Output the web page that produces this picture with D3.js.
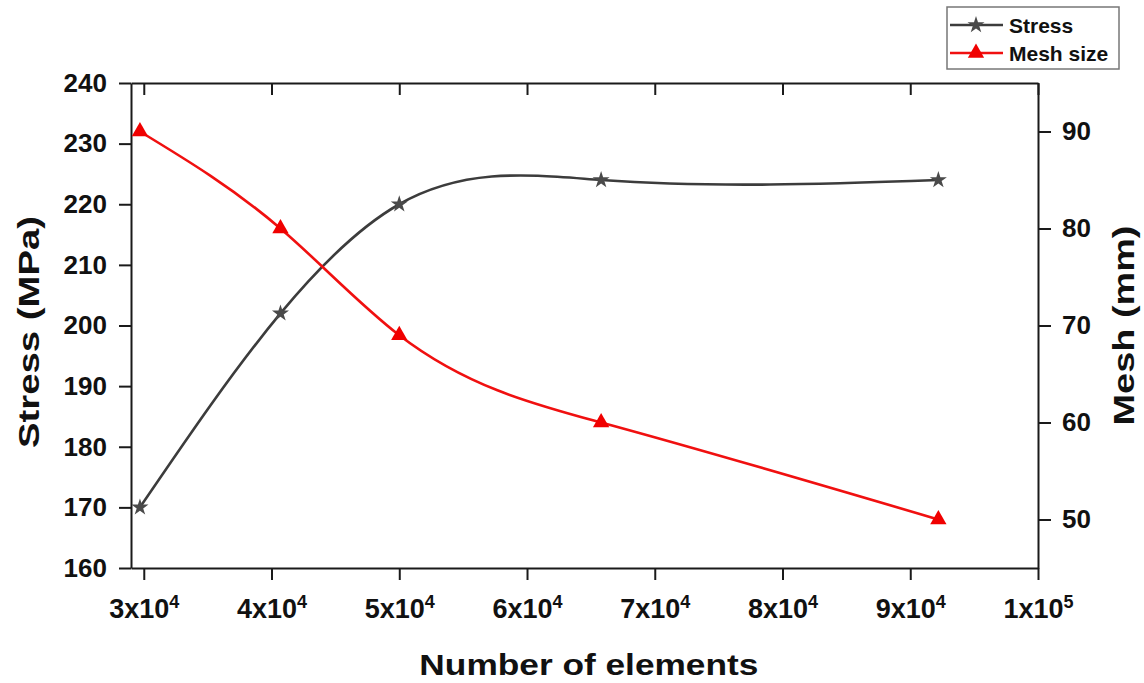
<!DOCTYPE html>
<html>
<head>
<meta charset="utf-8">
<script src="https://cdn.jsdelivr.net/npm/d3@7"></script>
<style>
	body { margin: 0; background: #fff; }
	svg text { font-family: "Liberation Sans", Arial, sans-serif; font-weight: bold; fill: #111; }
</style>
</head>
<body>
<svg id="chart" width="1144" height="683"></svg>
<script>
// values
const elements = [29700, 40700, 50000, 65800, 92200];
const stress = [170, 202, 220, 224, 224];
const meshSize = [90, 80, 69, 60, 50];

const xTicks = [3e4, 4e4, 5e4, 6e4, 7e4, 8e4, 9e4, 1e5];
const xMinor = [35000, 45000, 55000, 65000, 75000, 85000, 95000];
const stressTicks = [160, 170, 180, 190, 200, 210, 220, 230, 240];
const stressMinor = [165, 175, 185, 195, 205, 215, 225, 235];
const meshTicks = [50, 60, 70, 80, 90];
const meshMinor = [45, 55, 65, 75, 85, 95];

const plot = { left: 131, right: 1038, top: 83, bottom: 568 };
const svg = d3.select('#chart');

let x = d3.scaleLinear().domain([29000, 100000]).range([plot.left, plot.right]);
let yStress = d3.scaleLinear().domain([160, 240]).range([plot.bottom, plot.top]);
let yMesh = d3.scaleLinear().domain([45, 95]).range([plot.bottom, plot.top]);

// natural cubic spline of y as a function of x (like Origin's spline connector)
function curveNaturalX(context) {
	let xs, ys;
	return {
		areaStart: function() {},
		areaEnd: function() {},
		lineStart: function() { xs = []; ys = []; },
		point: function(px, py) { xs.push(+px); ys.push(+py); },
		lineEnd: function() {
			let n = xs.length;
			if (!n) return;
			context.moveTo(xs[0], ys[0]);
			if (n < 3) {
				for (let i = 1; i < n; i++) context.lineTo(xs[i], ys[i]);
				return;
			}
			let h = [], s = [];
			for (let i = 0; i < n - 1; i++) {
				h.push(xs[i + 1] - xs[i]);
				s.push((ys[i + 1] - ys[i]) / h[i]);
			}
			// tridiagonal solve for second derivatives
			let M = new Array(n).fill(0);
			let cp = [], dp = [];
			for (let i = 1; i < n - 1; i++) {
				let a = h[i - 1], b = 2 * (h[i - 1] + h[i]), c = h[i], d = 6 * (s[i] - s[i - 1]);
				if (i > 1) {
					let w = b - a * cp[i - 2];
					cp.push(c / w);
					dp.push((d - a * dp[i - 2]) / w);
				} else {
					cp.push(c / b);
					dp.push(d / b);
				}
			}
			for (let i = n - 2; i >= 1; i--) {
				M[i] = dp[i - 1] - cp[i - 1] * M[i + 1];
			}
			let m = [];
			for (let i = 0; i < n - 1; i++) m.push(s[i] - h[i] * (2 * M[i] + M[i + 1]) / 6);
			m.push(s[n - 2] + h[n - 2] * (M[n - 2] + 2 * M[n - 1]) / 6);
			for (let i = 0; i < n - 1; i++) {
				let k = h[i] / 3;
				context.bezierCurveTo(xs[i] + k, ys[i] + m[i] * k,
					xs[i + 1] - k, ys[i + 1] - m[i + 1] * k,
					xs[i + 1], ys[i + 1]);
			}
		}
	};
}

function styleAxis(g) {
	g.selectAll('path, line').attr('stroke', '#1a1a1a').attr('stroke-width', 2);
	g.selectAll('text').attr('font-size', 26).attr('font-family', null);
}

// bottom axis
let gBottom = svg.append('g').attr('transform', 'translate(0,' + plot.bottom + ')');
gBottom.call(d3.axisBottom(x).tickValues(xMinor).tickSize(6).tickSizeOuter(0).tickFormat(''));
gBottom.call(d3.axisBottom(x).tickValues(xTicks).tickSize(12).tickSizeOuter(0).tickPadding(10)
	.tickFormat(d => d));
styleAxis(gBottom);
gBottom.selectAll('.tick text').each(function(d) {
	let t = d3.select(this).text(null).attr('dy', '1.05em').attr('font-size', 27);
	let exp = Math.floor(Math.log10(d) + 1e-9);
	t.append('tspan').text(Math.round(d / Math.pow(10, exp)) + 'x10');
	t.append('tspan').attr('dy', '-0.6em').attr('font-size', 18).text(exp);
});

// top frame, ticks inward
let gTop = svg.append('g').attr('transform', 'translate(0,' + plot.top + ')');
gTop.call(d3.axisTop(x).tickValues(xMinor).tickSize(-6).tickSizeOuter(0).tickFormat(''));
gTop.call(d3.axisTop(x).tickValues(xTicks).tickSize(-12).tickSizeOuter(0).tickFormat(''));
styleAxis(gTop);

// left axis (stress)
let gLeft = svg.append('g').attr('transform', 'translate(' + plot.left + ',0)');
gLeft.call(d3.axisLeft(yStress).tickValues(stressMinor).tickSize(7).tickSizeOuter(0).tickFormat(''));
gLeft.call(d3.axisLeft(yStress).tickValues(stressTicks).tickSize(12).tickSizeOuter(0).tickPadding(12));
styleAxis(gLeft);

// right axis (mesh)
let gRight = svg.append('g').attr('transform', 'translate(' + plot.right + ',0)');
gRight.call(d3.axisRight(yMesh).tickValues(meshMinor).tickSize(7).tickSizeOuter(0).tickFormat(''));
gRight.call(d3.axisRight(yMesh).tickValues(meshTicks).tickSize(13).tickSizeOuter(0).tickPadding(11));
styleAxis(gRight);

// axis titles
svg.append('text')
	.attr('x', (x(3e4) + x(1e5)) / 2 - 2).attr('y', 675)
	.attr('text-anchor', 'middle').attr('font-size', 30)
	.attr('textLength', 339).attr('lengthAdjust', 'spacingAndGlyphs')
	.text('Number of elements');

svg.append('text')
	.attr('transform', 'translate(39,332) rotate(-90)')
	.attr('text-anchor', 'middle').attr('font-size', 30)
	.attr('textLength', 232).attr('lengthAdjust', 'spacingAndGlyphs')
	.text('Stress (MPa)');

svg.append('text')
	.attr('transform', 'translate(1134,' + ((plot.top + plot.bottom) / 2) + ') rotate(-90)')
	.attr('text-anchor', 'middle').attr('font-size', 30)
	.attr('textLength', 200).attr('lengthAdjust', 'spacingAndGlyphs')
	.text('Mesh (mm)');

// series
const series = [
	{ name: 'Stress', values: stress, y: yStress, color: '#3c3c3c', marker: '#4a4a4a', symbol: d3.symbolStar, size: 90 },
	{ name: 'Mesh size', values: meshSize, y: yMesh, color: '#f01010', marker: '#f00000', symbol: d3.symbolTriangle, size: 115 }
];

series.forEach(function(s) {
	let pts = elements.map((e, i) => [e, s.values[i]]);
	let line = d3.line()
		.x(d => x(d[0]))
		.y(d => s.y(d[1]))
		.curve(curveNaturalX);
	svg.append('path')
		.attr('d', line(pts))
		.attr('fill', 'none')
		.attr('stroke', s.color)
		.attr('stroke-width', 2.6);
	svg.append('g').selectAll('path')
		.data(pts)
		.enter().append('path')
		.attr('transform', d => 'translate(' + x(d[0]) + ',' + s.y(d[1]) + ')')
		.attr('d', d3.symbol().type(s.symbol).size(s.size))
		.attr('fill', s.marker);
});

// legend
let legend = svg.append('g');
legend.append('rect')
	.attr('x', 947).attr('y', 7).attr('width', 172).attr('height', 62)
	.attr('fill', '#fff').attr('stroke', '#777').attr('stroke-width', 1.5);
series.forEach(function(s, i) {
	let cy = 25 + i * 28;
	legend.append('line')
		.attr('x1', 950).attr('x2', 1003).attr('y1', cy).attr('y2', cy)
		.attr('stroke', s.color).attr('stroke-width', 2.4);
	legend.append('path')
		.attr('transform', 'translate(976,' + cy + ')')
		.attr('d', d3.symbol().type(s.symbol).size(s.size))
		.attr('fill', s.marker);
	legend.append('text')
		.attr('x', 1009).attr('y', cy).attr('dy', '0.36em')
		.attr('font-size', 21)
		.text(s.name);
});
</script>
</body>
</html>
